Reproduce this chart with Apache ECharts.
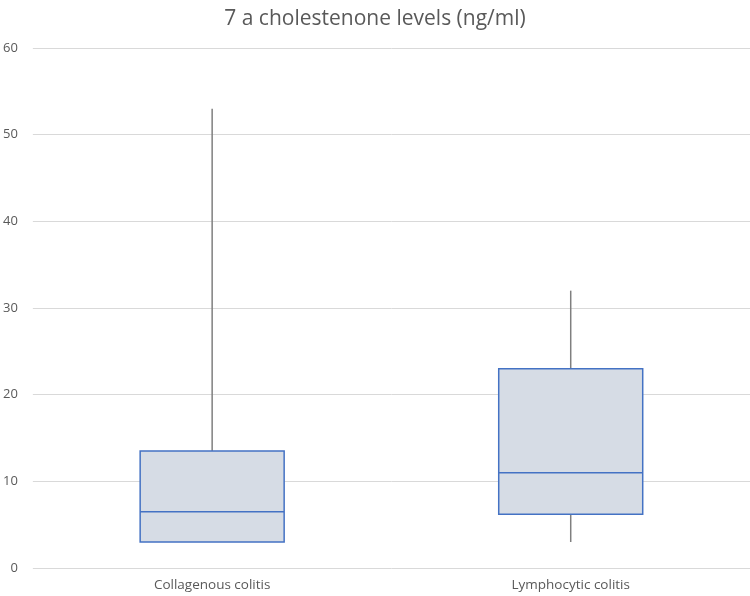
<!DOCTYPE html>
<html>
<head>
<meta charset="utf-8">
<script src="https://cdn.jsdelivr.net/npm/echarts@6/dist/echarts.min.js"></script>
<style>
  html, body { margin: 0; padding: 0; background: #fff; }
  #main { width: 750px; height: 596px; }
</style>
</head>
<body>
<div id="main"></div>
<script>
const categories = ['Collagenous colitis', 'Lymphocytic colitis']
// [min, q1, median, q3, max]
const boxValues = [
  [3, 3, 6.5, 13.5, 53],
  [3, 6.2, 11, 23, 32]
]
const yTicks = [0, 10, 20, 30, 40, 50, 60]

const textColor = '#595959'
const chart = echarts.init(document.getElementById('main'))

// the box only, whiskers are drawn separately in grey
const boxOnly = boxValues.map((d) => [d[1], d[1], d[2], d[3], d[3]])

chart.setOption({
  animation: false,
  title: {
    text: '7 a cholestenone levels (ng/ml)',
    left: 'center',
    top: 4,
    textStyle: {
      fontFamily: 'Open Sans',
      fontSize: 21,
      fontWeight: 'normal',
      color: textColor
    }
  },
  grid: { left: 30, right: 0, top: 48, bottom: 28 },
  xAxis: {
    type: 'category',
    data: categories,
    axisLine: { show: false },
    axisTick: { show: false },
    axisLabel: { color: textColor, fontFamily: 'Open Sans', fontSize: 13.5, margin: 10 }
  },
  yAxis: {
    type: 'value',
    min: yTicks[0],
    max: yTicks[yTicks.length - 1],
    interval: 10,
    axisLine: { show: false },
    axisTick: { show: false },
    axisLabel: { color: textColor, fontFamily: 'Open Sans', fontSize: 13, margin: 15 },
    splitLine: { lineStyle: { color: '#d9d9d9', width: 1 } }
  },
  series: [
    {
      type: 'custom',
      z: 1,
      renderItem: (params, api) => {
        const x = api.value(0)
        const low = api.coord([x, api.value(1)])
        const q1 = api.coord([x, api.value(2)])
        const q3 = api.coord([x, api.value(3)])
        const high = api.coord([x, api.value(4)])
        const style = { stroke: '#7f7f7f', lineWidth: 1.5 }
        return {
          type: 'group',
          children: [
            { type: 'line', shape: { x1: high[0], y1: high[1], x2: q3[0], y2: q3[1] }, style },
            { type: 'line', shape: { x1: low[0], y1: low[1], x2: q1[0], y2: q1[1] }, style }
          ]
        }
      },
      data: boxValues.map((d, i) => [i, d[0], d[1], d[3], d[4]])
    },
    {
      type: 'boxplot',
      z: 2,
      boxWidth: [144, 144],
      itemStyle: { color: '#d6dce5', borderColor: '#4472c4', borderWidth: 1.5 },
      data: boxOnly
    }
  ]
})
</script>
</body>
</html>
